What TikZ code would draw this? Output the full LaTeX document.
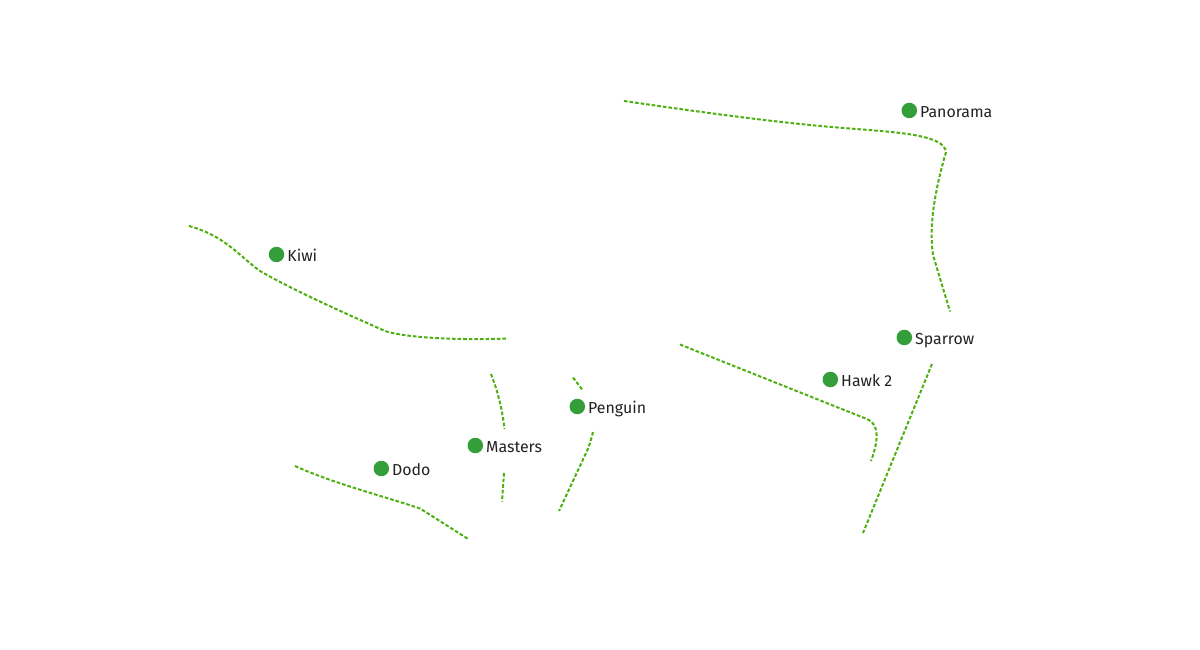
\documentclass[tikz,border=0pt]{standalone}
\usepackage{fontspec}
\setmainfont{Fira Sans}
\definecolor{routegreen}{HTML}{4DB010}
\definecolor{dotgreen}{HTML}{339E3A}
\definecolor{labelink}{HTML}{222222}
\tikzset{
  route/.style={draw=routegreen,line width=2pt,dash pattern=on 3.6pt off 2pt},
  place/.style={circle,fill=dotgreen,inner sep=0pt,minimum size=15.5pt},
  placelabel/.style={anchor=west,inner sep=0pt,text=labelink,font=\fontsize{15.9}{18}\selectfont,text height=11.5pt,text depth=3pt}
}
\begin{document}
\begin{tikzpicture}[x=1pt,y=-1pt]
\useasboundingbox (0,0) rectangle (1200,650);
% places
\node[place] (panorama) at (909.3,110.5) {};
\node[placelabel] (panoramaL) at (920,113) {Panorama};
\node[place] (kiwi) at (276.5,254.5) {};
\node[placelabel] (kiwiL) at (287.2,257) {Kiwi};
\node[place] (sparrow) at (904.3,337.5) {};
\node[placelabel] (sparrowL) at (915,340) {Sparrow};
\node[place] (hawk) at (830.3,379.5) {};
\node[placelabel] (hawkL) at (841,382) {Hawk 2};
\node[place] (penguin) at (577.3,406.5) {};
\node[placelabel] (penguinL) at (588,409) {Penguin};
\node[place] (masters) at (475.3,445.5) {};
\node[placelabel] (mastersL) at (486,448) {Masters};
\node[place] (dodo) at (381.3,468.5) {};
\node[placelabel] (dodoL) at (392,471) {Dodo};
% route ends
\coordinate (a1) at (624,101);
\coordinate (a2) at (946,152);
\coordinate (a3) at (933,255);
\coordinate (a4) at (950,311.5);
\coordinate (b1) at (189,226);
\coordinate (b2) at (260,271);
\coordinate (b3) at (385,331);
\coordinate (b4) at (507.5,338.5);
\coordinate (c1) at (680,344.5);
\coordinate (c2) at (868,419.5);
\coordinate (c3) at (871,461);
\coordinate (d1) at (932,364);
\coordinate (d2) at (863,533);
\coordinate (e1) at (491,374);
\coordinate (e2) at (504.5,429);
\coordinate (f1) at (504,473);
\coordinate (f2) at (502,501.5);
\coordinate (g1) at (573,377.5);
\coordinate (g2) at (582.5,390);
\coordinate (h1) at (593,432);
\coordinate (h2) at (586,453);
\coordinate (h3) at (559,511);
\coordinate (i1) at (295,466);
\coordinate (i2) at (420,508.5);
\coordinate (i3) at (469,539.5);
% routes
\draw[route] (a1) .. controls (720,115) and (790,124) .. (850,128.5)
  .. controls (900,132.5) and (944,135) .. (a2)
  .. controls (938,180) and (928,220) .. (a3) -- (a4);
\draw[route] (b1) .. controls (225,236) and (238,255) .. (b2)
  .. controls (295,291) and (340,311) .. (b3)
  .. controls (410,339) and (470,340) .. (b4);
\draw[route] (c1) -- (c2) .. controls (880,425) and (878,442) .. (c3);
\draw[route] (d1) -- (d2);
\draw[route] (e1) .. controls (498,392) and (502,408) .. (e2);
\draw[route] (f1) -- (f2);
\draw[route] (g1) -- (g2);
\draw[route] (h1) .. controls (591,440) and (589,447) .. (h2) -- (h3);
\draw[route] (i1) .. controls (335,484) and (380,495) .. (i2) -- (i3);
\end{tikzpicture}
\end{document}
